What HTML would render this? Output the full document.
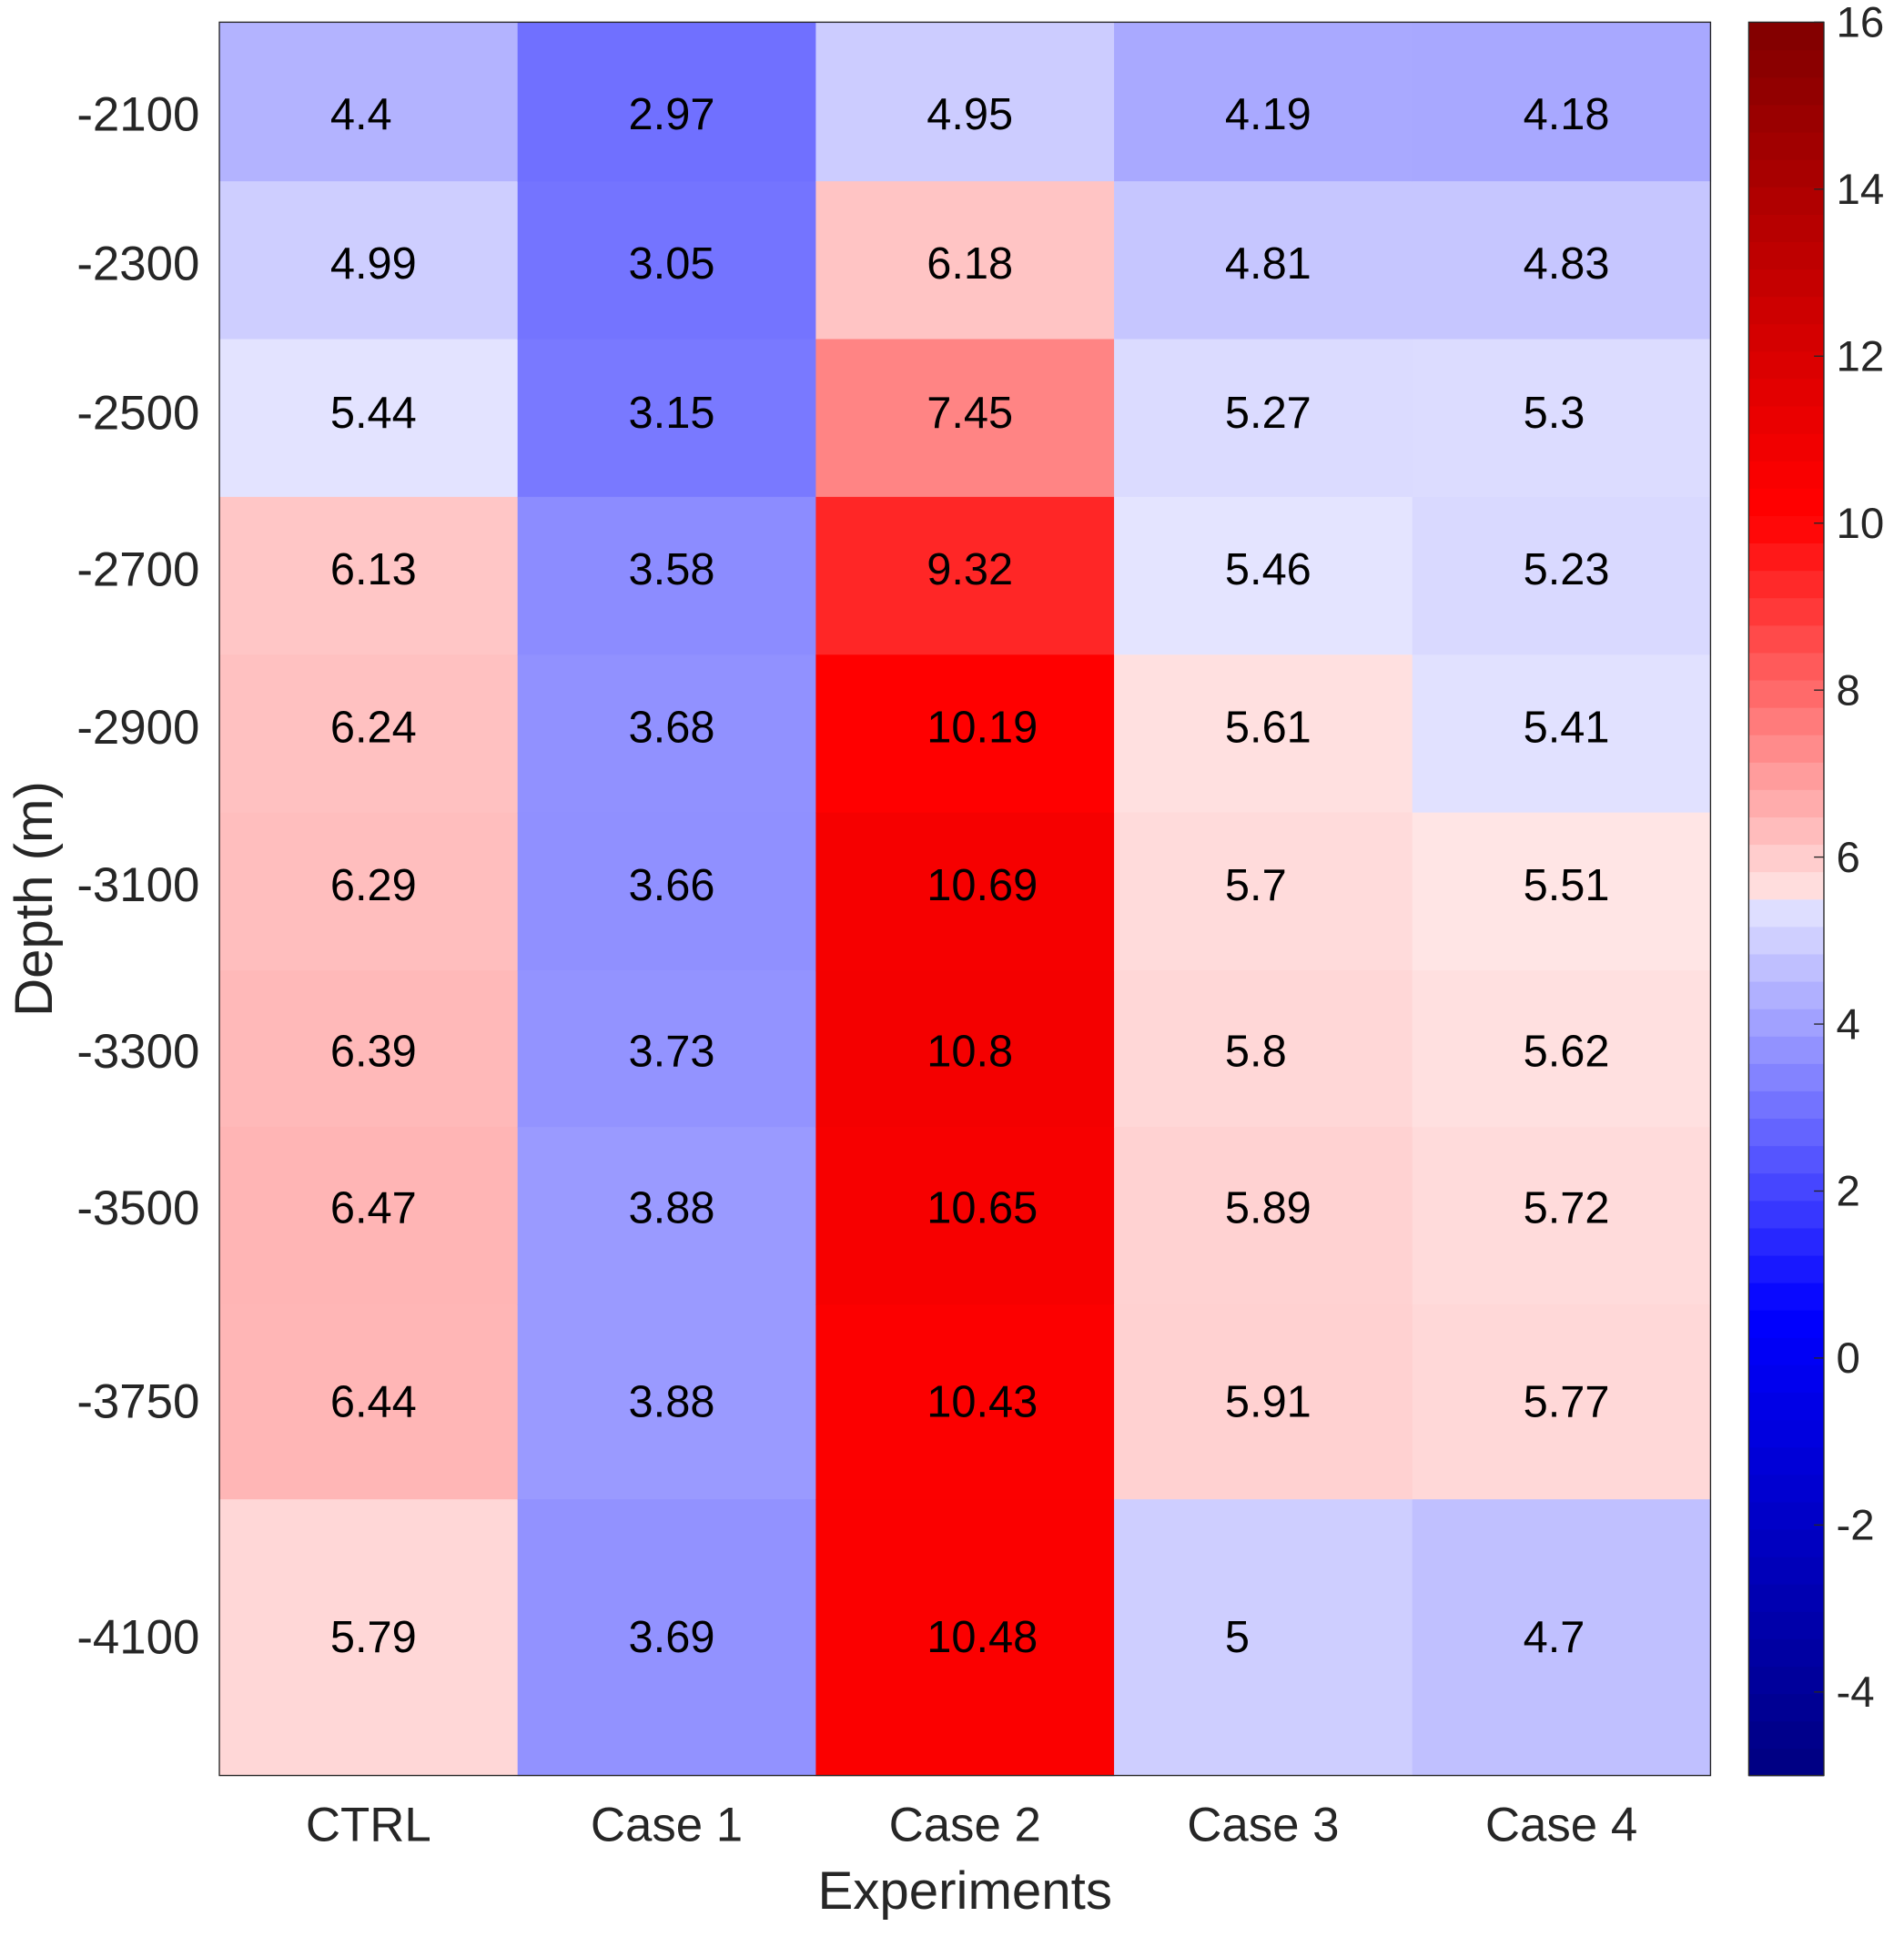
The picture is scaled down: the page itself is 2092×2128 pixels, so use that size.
<!DOCTYPE html>
<html><head><meta charset="utf-8"><style>
html,body{margin:0;padding:0;background:#fff;}
svg{display:block;}
text{font-family:"Liberation Sans",Arial,sans-serif;}
</style></head><body>
<svg id="chart" width="2092" height="2128" viewBox="0 0 1545 1571" preserveAspectRatio="none" xmlns="http://www.w3.org/2000/svg">
<g id="cells"></g>
<g id="labels"></g>
<rect x="178" y="18" width="1210" height="1422" fill="none" stroke="#262626" stroke-width="1"/>
<g id="yticks"></g>
<g id="xticks"></g>
<text x="783" y="1548" font-size="43" fill="#262626" text-anchor="middle">Experiments</text>
<text x="0" y="0" font-size="43" fill="#262626" text-anchor="middle" transform="translate(42,729) rotate(-90)">Depth (m)</text>
<g id="cbar"></g>
<g id="cbticks"></g>
</svg>
<script>
const categories = ["CTRL","Case 1","Case 2","Case 3","Case 4"];
const depths = ["-2100","-2300","-2500","-2700","-2900","-3100","-3300","-3500","-3750","-4100"];
const ctrlValues  = [4.4,4.99,5.44,6.13,6.24,6.29,6.39,6.47,6.44,5.79];
const case1Values = [2.97,3.05,3.15,3.58,3.68,3.66,3.73,3.88,3.88,3.69];
const case2Values = [4.95,6.18,7.45,9.32,10.19,10.69,10.8,10.65,10.43,10.48];
const case3Values = [4.19,4.81,5.27,5.46,5.61,5.7,5.8,5.89,5.91,5];
const case4Values = [4.18,4.83,5.3,5.23,5.41,5.51,5.62,5.72,5.77,4.7];
const cbTicks = [-4,-2,0,2,4,6,8,10,12,14,16];
const cbMin = -5, cbMax = 16;

const series = [ctrlValues,case1Values,case2Values,case3Values,case4Values];
const NS="http://www.w3.org/2000/svg";
const L=178,R=1388,T=18,B=1440;
const rowEdges=[18,147,275,403,531,659,787,914,1058,1216,1440];
const rowCenters=[93,214,335,462,590,718,853,980,1137,1328];
const colW=(R-L)/categories.length;
function xCol(i){return L+i*colW;}
function cmap(v){
  let r,g,b;
  if(v<5.5){
    const f=Math.min(1,0.1+(5.5-v)/5.5);
    r=g=255*(1-f); b=255;
    if(v<0.5){b=255-127*Math.min(1,(0.5-v)/5.5);}
  } else {
    const f=Math.min(1,0.1+(v-5.5)/5.1);
    g=b=255*(1-f); r=255;
    if(v>10.3){r=255-127*Math.min(1,(v-10.3)/5.7);}
  }
  return `rgb(${Math.round(r)},${Math.round(g)},${Math.round(b)})`;
}
function el(tag,attrs,parent,txt){const e=document.createElementNS(NS,tag);for(const k in attrs)e.setAttribute(k,attrs[k]);if(txt!==undefined)e.textContent=txt;parent.appendChild(e);return e;}
const cells=document.getElementById('cells'),labels=document.getElementById('labels');
series.forEach((vals,c)=>{
  vals.forEach((v,r)=>{
    const y0=rowEdges[r],y1=rowEdges[r+1];
    const rc=el('rect',{x:xCol(c),y:y0,width:colW+0.5,height:y1-y0+0.5,fill:cmap(v)},cells);
    
    
    const t=el('text',{x:xCol(c)+90,y:rowCenters[r]+12,'font-size':36,fill:'#000'},labels,String(v));
    
    
  });
});
const yt=document.getElementById('yticks');
depths.forEach((d,r)=>{
  const t=el('text',{x:162,y:rowCenters[r]+13,'font-size':39,fill:'#262626','text-anchor':'end'},yt,d);
  
  
});
const xt=document.getElementById('xticks');
categories.forEach((c,i)=>{
  const t=el('text',{x:xCol(i)+colW/2,y:1493,'font-size':39,fill:'#262626','text-anchor':'middle'},xt,c);
  
  
});
const cb=document.getElementById('cbar'),cbt=document.getElementById('cbticks');
const CL=1419,CR=1480;
function yCb(v){return B-(v-cbMin)/(cbMax-cbMin)*(B-T);}
const nl=64;
for(let i=0;i<nl;i++){
  const v0=cbMin+i*(cbMax-cbMin)/nl, v1=cbMin+(i+1)*(cbMax-cbMin)/nl;
  const rc=el('rect',{x:CL,y:yCb(v1),width:CR-CL,height:yCb(v0)-yCb(v1)+0.6,fill:cmap((v0+v1)/2)},cb);
  
  
}
const fr=el('rect',{x:CL,y:T,width:CR-CL,height:B-T,fill:'none',stroke:'#262626','stroke-width':1},cb);


cbTicks.forEach(v=>{
  const y=yCb(v);
  const ln=el('line',{x1:CR-8,x2:CR,y1:y,y2:y,stroke:'#262626','stroke-width':1},cbt);
  
  
  const t=el('text',{x:1490,y:y+12,'font-size':35,fill:'#262626'},cbt,String(v));
  
  
});
</script>
</body></html>
